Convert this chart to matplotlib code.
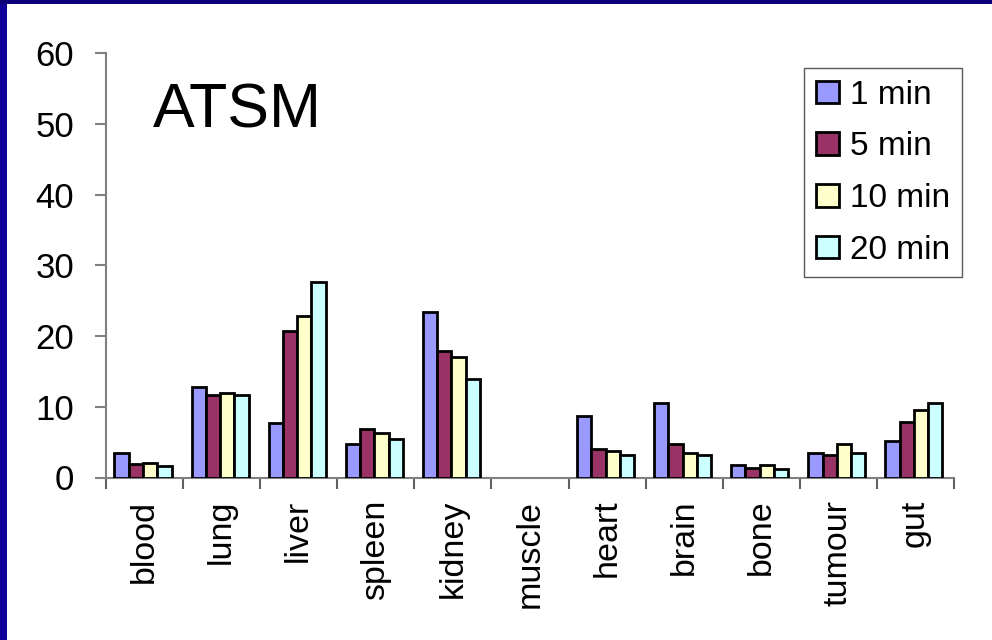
import matplotlib
matplotlib.use("Agg")
import matplotlib.pyplot as plt
from matplotlib.patches import Rectangle
import numpy as np

plt.rcParams['font.family'] = ['Liberation Sans', 'DejaVu Sans']

organs = ["blood", "lung", "liver", "spleen", "kidney", "muscle",
          "heart", "brain", "bone", "tumour", "gut"]
series_labels = ["1 min", "5 min", "10 min", "20 min"]
min1 = [3.5, 12.8, 7.7, 4.7, 23.4, 0, 8.7, 10.5, 1.7, 3.5, 5.1]
min5 = [1.9, 11.6, 20.7, 6.8, 17.9, 0, 4.1, 4.8, 1.4, 3.2, 7.8]
min10 = [2.0, 11.9, 22.8, 6.3, 17.0, 0, 3.8, 3.5, 1.7, 4.8, 9.6]
min20 = [1.6, 11.6, 27.6, 5.4, 14.0, 0, 3.2, 3.2, 1.2, 3.5, 10.5]
colors = ["#9999ff", "#993366", "#ffffcc", "#ccffff"]
y_ticks = [0, 10, 20, 30, 40, 50, 60]

W, H = 992, 640
fig = plt.figure(figsize=(W / 100, H / 100), dpi=100)
fig.patch.set_facecolor("white")

# dark frame strips along the left and top edges
fig.patches.append(Rectangle((0, 0), 7 / W, 1, transform=fig.transFigure,
                             facecolor="#10009a", edgecolor="none", zorder=0))
fig.patches.append(Rectangle((0, 1 - 4 / H), 1, 4 / H, transform=fig.transFigure,
                             facecolor="#0c0078", edgecolor="none", zorder=0))

x0, x1 = 106, 954
y0, y1 = 477.5, 53.3
ax = fig.add_axes([x0 / W, 1 - y0 / H, (x1 - x0) / W, (y0 - y1) / H])

x = np.arange(len(organs))
bw = 0.185
series = [min1, min5, min10, min20]
for i, (vals, c, lab) in enumerate(zip(series, colors, series_labels)):
    offs = (i - 1.5) * bw - 0.02
    bars = ax.bar(x + offs, vals, width=bw, color=c, edgecolor="black",
                  linewidth=2.0, label=lab, zorder=3)
    # empty values leave no outline on the axis
    for b, v in zip(bars, vals):
        if v == 0:
            b.set_linewidth(0)

ax.set_xlim(-0.5, len(organs) - 0.5)
ax.set_ylim(0, 60)
ax.set_yticks(y_ticks)
ax.tick_params(axis="y", direction="out", length=8, width=1.5,
               color="#808080", labelsize=25, pad=15)

# boundary ticks between categories, labels at category centres
ax.set_xticks(np.arange(-0.5, len(organs), 1.0))
ax.set_xticklabels([])
ax.tick_params(axis="x", which="major", direction="out", length=8,
               width=1.5, color="#606060")
ax.set_xticks(x, minor=True)
ax.set_xticklabels(organs, minor=True, rotation=90, fontsize=24.5)
ax.tick_params(axis="x", which="minor", length=0, pad=16)

for s in ["top", "right"]:
    ax.spines[s].set_visible(False)
for s in ["left", "bottom"]:
    ax.spines[s].set_color("#808080")
    ax.spines[s].set_linewidth(1.5)

ax.text(153 / W, 1 - 128 / H, "ATSM", transform=fig.transFigure,
        fontsize=45, ha="left", va="baseline")

leg = ax.legend(loc="upper right", bbox_to_anchor=(962 / W, 1 - 68 / H),
                bbox_transform=fig.transFigure, fontsize=24,
                frameon=True, fancybox=False, handlelength=0.68,
                handleheight=0.68, handletextpad=0.35, labelspacing=0.62,
                borderpad=0.35, borderaxespad=0)
leg.get_frame().set_edgecolor("#303030")
leg.get_frame().set_linewidth(1.0)
for p in leg.get_patches():
    p.set_linewidth(2.0)

fig.savefig("out.png", dpi=100, facecolor="white")
